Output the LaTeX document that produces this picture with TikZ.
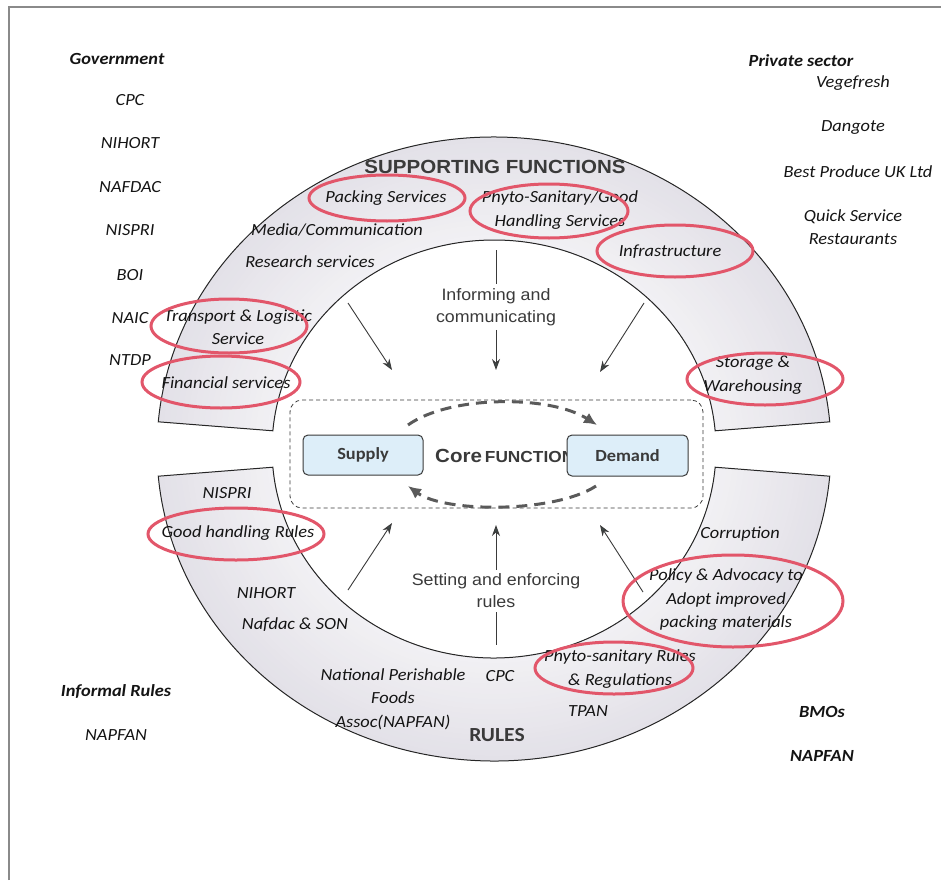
\documentclass[tikz,border=0pt]{standalone}
\usepackage{fontspec}
\setmainfont{Carlito}[FakeStretch=1.08]
\newfontfamily\headfont{Liberation Sans}[FakeStretch=1.08]
\usetikzlibrary{arrows.meta,shapes.geometric}

\definecolor{bandout}{HTML}{E3E1E8}
\definecolor{bandin}{HTML}{F2F1F4}
\definecolor{ringred}{HTML}{E2566A}
\definecolor{boxblue}{HTML}{DDEEF9}
\definecolor{darkgrey}{HTML}{3A3A3A}
\definecolor{dashgrey}{HTML}{5A5A5A}
\definecolor{tipgrey}{HTML}{3F4A48}
\definecolor{framegrey}{HTML}{8A8A8A}

\tikzset{
  lbl/.style={font=\fontsize{17}{23.5}\selectfont\itshape, align=center, inner sep=0pt, text=black!92},
  blbl/.style={lbl, font=\fontsize{17}{23.5}\selectfont\bfseries\itshape},
  headlbl/.style={font=\headfont\bfseries\fontsize{19}{22}\selectfont, text=darkgrey, inner sep=0pt},
  ruleslbl/.style={font=\bfseries\fontsize{20}{22}\selectfont, text=darkgrey, inner sep=0pt},
  actlbl/.style={font=\headfont\fontsize{16.5}{22}\selectfont, text=darkgrey, align=center, inner sep=4pt},
  ringline/.style={draw=black!85, line width=1pt},
  frameline/.style={draw=framegrey, line width=1.5pt},
  corebox/.style={draw=darkgrey, line width=0.8pt, dash pattern=on 4pt off 3pt, rounded corners=12pt,
    minimum width=413pt, minimum height=108pt, inner sep=0pt},
  actor/.style={draw=darkgrey, fill=boxblue, rounded corners=5pt, line width=1pt,
    minimum width=120pt, minimum height=40pt, inner sep=0pt,
    font=\bfseries\fontsize{17}{20}\selectfont, text=darkgrey},
  flow/.style={draw=darkgrey, line width=0.9pt, -{Stealth[length=11pt,width=8pt,fill=tipgrey]}},
  plain/.style={draw=darkgrey, line width=0.9pt},
  flowdash/.style={draw=dashgrey, line width=3pt, dash pattern=on 11pt off 7pt,
    -{Latex[length=13pt,width=12pt]}},
  redring/.style={ellipse, draw=ringred, line width=3pt, inner sep=0pt}
}

\newcommand\upperbandpath{(185:337pt and 312pt) arc[start angle=185,end angle=355,x radius=337pt,y radius=312pt]
  -- (355:222pt and 209pt) arc[start angle=355,end angle=185,x radius=222pt,y radius=209pt] -- cycle}
\newcommand\lowerbandpath{(5:337pt and 312pt) arc[start angle=5,end angle=175,x radius=337pt,y radius=312pt]
  -- (175:222pt and 209pt) arc[start angle=175,end angle=5,x radius=222pt,y radius=209pt] -- cycle}

\begin{document}
\begin{tikzpicture}[x=1pt,y=1pt,yscale=-1]
\useasboundingbox (0,0) rectangle (941,880);

% page frame
\draw[frameline] (9,880) -- (9,7) -- (941,7);

% the two bands of the ring, shaded slightly darker towards the outside
\begin{scope}[shift={(494,449)}]
  \begin{scope}
    \clip \upperbandpath \lowerbandpath;
    \foreach \k in {20,19,...,0}{
      \pgfmathsetmacro\rx{222+5.75*\k}
      \pgfmathsetmacro\ry{209+5.15*\k}
      \pgfmathtruncatemacro\p{5*\k}
      \fill[bandout!\p!bandin] (0,0) ellipse[x radius=\rx pt, y radius=\ry pt];
    }
  \end{scope}
  \draw[ringline] \upperbandpath;
  \draw[ringline] \lowerbandpath;
\end{scope}

% stakeholder columns
\node[blbl] (gov) at (117,59) {Government};
\node[lbl] (g1) at (130,100) {CPC};
\node[lbl] (g2) at (130,143) {NIHORT};
\node[lbl] (g3) at (130,187) {NAFDAC};
\node[lbl] (g4) at (130,230) {NISPRI};
\node[lbl] (g5) at (130,275) {BOI};
\node[lbl] (g6) at (130,318) {NAIC};
\node[lbl] (g7) at (130,360) {NTDP};

\node[blbl] (priv) at (801,61) {Private sector};
\node[lbl] (p1) at (853,83) {Vegefresh};
\node[lbl] (p2) at (853,128) {Dangote};
\node[lbl] (p3) at (858,172) {Best Produce UK Ltd};
\node[lbl] (p4) at (853,227) {Quick Service\\Restaurants};

\node[blbl] (inf) at (116,692) {Informal Rules};
\node[lbl] (inf1) at (116,735) {NAPFAN};
\node[blbl] (bmo) at (822,712) {BMOs};
\node[blbl] (bmo1) at (822,756) {NAPFAN};

% supporting functions band
\node[headlbl] (suphead) at (495,167) {SUPPORTING FUNCTIONS};
\node[lbl] (s1) at (386,198) {Packing Services};
\node[lbl] (s2) at (560,210) {Phyto-Sanitary/Good\\Handling Services};
\node[lbl] (s3) at (337,230) {Media/Communication};
\node[lbl] (s4) at (310,262) {Research services};
\node[lbl] (s5) at (670,252) {Infrastructure};
\node[lbl] (s6) at (238,327) {Transport \& Logistic\\Service};
\node[lbl] (s7) at (226,383) {Financial services};
\node[lbl] (s8) at (753,375) {Storage \&\\Warehousing};

% rules band
\node[lbl] (r1) at (227,493) {NISPRI};
\node[lbl] (r2) at (238,533) {Good handling Rules};
\node[lbl] (r3) at (266,593) {NIHORT};
\node[lbl] (r4) at (295,625) {Nafdac \& SON};
\node[lbl] (r5) at (393,699) {National Perishable\\Foods\\Assoc(NAPFAN)};
\node[lbl] (r6) at (500,676) {CPC};
\node[lbl] (r7) at (620,669) {Phyto-sanitary Rules\\\& Regulations};
\node[lbl] (r8) at (588,711) {TPAN};
\node[ruleslbl] (ruleshead) at (497,735) {RULES};
\node[lbl] (r9) at (740,534) {Corruption};
\node[lbl] (r10) at (726,600) {Policy \& Advocacy to\\Adopt improved\\packing materials};

% core function
\node[corebox] (core) at (496.5,454) {};
\node[actor] (supply) at (363,455) {Supply};
\node[anchor=west, inner sep=0pt, font=\headfont\bfseries, text=darkgrey] (coretxt) at (435,456)
  {{\fontsize{19}{20}\selectfont Core} {\fontsize{16}{20}\selectfont FUNCTION}};
\node[actor, minimum width=121pt, minimum height=41pt] (demand) at (627.5,455.5) {Demand};

\coordinate (sd1) at (408,425);
\coordinate (sd2) at (597,425);
\coordinate (ds1) at (596,486);
\coordinate (ds2) at (408,486);
\draw[flowdash] (sd1) .. controls (450,395) and (550,395) .. (sd2);
\draw[flowdash] (ds1) .. controls (555,513) and (445,513) .. (ds2);

% informing and communicating
\node[actlbl] (inform) at (496,307) {Informing and\\communicating};
\coordinate (infTop) at (496,250);
\coordinate (infEnd) at (496,370);
\draw[plain] (infTop) -- (inform.north);
\draw[flow] (inform.south) -- (infEnd);
\coordinate (ulA) at (348,303);
\coordinate (ulB) at (392,370);
\coordinate (urA) at (644,303);
\coordinate (urB) at (600,372);
\draw[flow] (ulA) -- (ulB);
\draw[flow] (urA) -- (urB);

% setting and enforcing rules
\node[actlbl] (setting) at (496,591) {Setting and enforcing\\rules};
\coordinate (setTip) at (496,525);
\coordinate (setBot) at (496,645);
\draw[flow] (setting.north) -- (setTip);
\draw[plain] (setting.south) -- (setBot);
\coordinate (llA) at (348,590);
\coordinate (llB) at (392,523);
\coordinate (lrA) at (643,592);
\coordinate (lrB) at (600,525);
\draw[flow] (llA) -- (llB);
\draw[flow] (lrA) -- (lrB);

% highlighted items
\node[redring, minimum width=156pt, minimum height=46pt] (h1) at (387,198) {};
\node[redring, minimum width=158pt, minimum height=54pt] (h2) at (549,211) {};
\node[redring, minimum width=156pt, minimum height=52pt] (h3) at (675,251) {};
\node[redring, minimum width=156pt, minimum height=52pt] (h4) at (765,379) {};
\node[redring, minimum width=156pt, minimum height=54pt] (h5) at (229,326) {};
\node[redring, minimum width=158pt, minimum height=52pt] (h6) at (221,382) {};
\node[redring, minimum width=176pt, minimum height=52pt] (h7) at (236,534) {};
\node[redring, minimum width=220pt, minimum height=92pt] (h8) at (733,601) {};
\node[redring, minimum width=158pt, minimum height=52pt] (h9) at (614,668) {};
\end{tikzpicture}
\end{document}
